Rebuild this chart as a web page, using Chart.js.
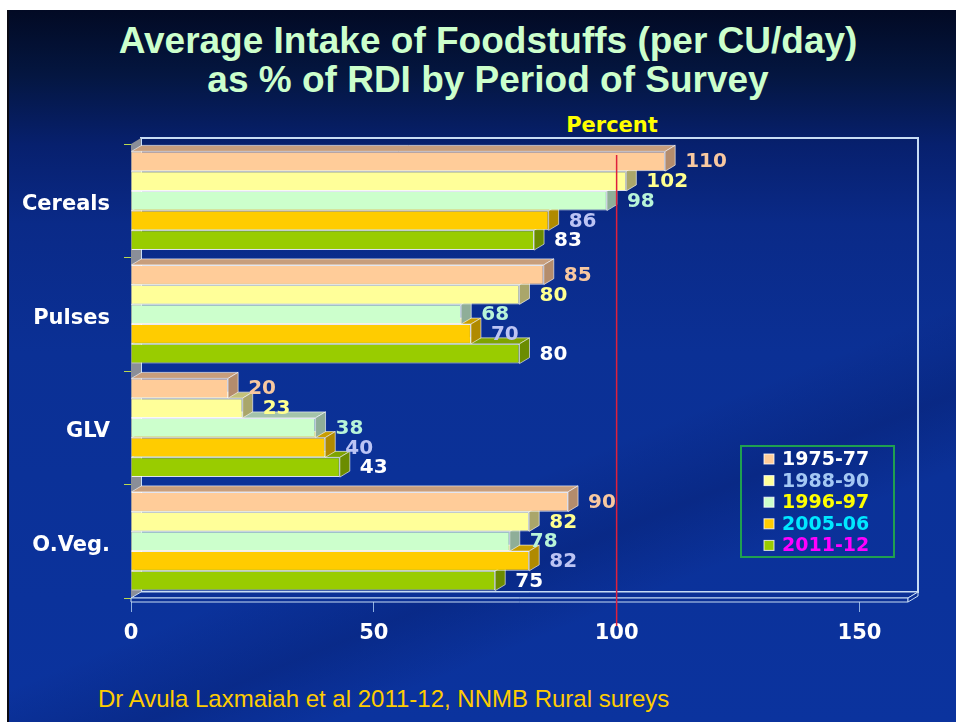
<!DOCTYPE html>
<html>
<head>
<meta charset="utf-8">
<title>Average Intake of Foodstuffs</title>
<script src="https://cdn.jsdelivr.net/npm/chart.js@4.4.1/dist/chart.umd.min.js"></script>
<style>
    html, body { margin: 0; padding: 0; background: #fff; overflow: hidden; }
    body { width: 956px; height: 722px; position: relative; }
    #slide {
        position: absolute; left: 7px; top: 10px; width: 947px; height: 712px;
        border-left: 2px solid #0a0a14;
        background:
            linear-gradient(158deg, rgba(0,0,0,0) 62%, rgba(0,12,70,0.22) 70%, rgba(0,0,0,0) 77%),
            linear-gradient(180deg, #020a24 0%, #041640 9%, #07206e 19%, #0a2a88 30%, #0b3095 48%, #0b339e 100%);
    }
    #title {
        position: absolute; left: 20px; top: 21px; width: 936px;
        text-align: center; color: #ccffcc;
        font: bold 37px "Liberation Sans", Arial, sans-serif; line-height: 39px;
    }
    #unit {
        position: absolute; left: 562px; top: 113px; width: 100px; text-align: center;
        color: #ffff00; font: bold 21px "DejaVu Sans", Verdana, sans-serif; line-height: 25px;
    }
    #source {
        position: absolute; left: 98px; top: 686px;
        color: #ffcc00; font: 24px "Liberation Sans", Arial, sans-serif; line-height: 26px;
    }
    #wrap { position: absolute; left: 0; top: 0; width: 956px; height: 722px; }
</style>
</head>
<body>
<div id="slide"></div>
<div id="title">Average Intake of Foodstuffs (per CU/day)<br>as % of RDI by Period of Survey</div>
<div id="unit">Percent</div>
<div id="source">Dr Avula Laxmaiah et al 2011-12, NNMB Rural sureys</div>
<div id="wrap"><canvas id="intakeChart"></canvas></div>

<script>
// Survey data (% of RDI)
const categories = ['Cereals', 'Pulses', 'GLV', 'O.Veg.'];
const periods = ['1975-77', '1988-90', '1996-97', '2005-06', '2011-12'];
const intake1975 = [110, 85, 20, 90];
const intake1988 = [102, 80, 23, 82];
const intake1996 = [98, 68, 38, 78];
const intake2005 = [86, 70, 40, 82];
const intake2011 = [83, 80, 43, 75];
const xTicks = [0, 50, 100, 150];
const rdiLevel = 100;

// Colours per period
const barColors   = ['#ffcc99', '#ffff99', '#ccffcc', '#ffcc00', '#99cc00'];
const sideColors  = ['#b48c6c', '#aaa66a', '#8fae98', '#b08a00', '#6b8c00'];
const topColors   = ['#c89e7c', '#c4c27a', '#a4c4aa', '#c89e00', '#7fa300'];
const valueColors = ['#f8c8a0', '#ffff90', '#b8f4d8', '#bcc4f4', '#ffffff'];
const legendColors = ['#ffffff', '#a4c8f4', '#ffff00', '#00e8ff', '#ff00ff'];

const FONT = "'DejaVu Sans', Verdana, sans-serif";
const DX = 10, DY = 6; // depth of the 3D effect

function poly(ctx, pts, fill, stroke) {
    ctx.beginPath();
    ctx.moveTo(pts[0][0], pts[0][1]);
    for (let k = 1; k < pts.length; k++) ctx.lineTo(pts[k][0], pts[k][1]);
    ctx.closePath();
    if (fill) { ctx.fillStyle = fill; ctx.fill(); }
    if (stroke) { ctx.strokeStyle = stroke; ctx.stroke(); }
}

// Back wall, left wall and floor slab behind the bars
const box3d = {
    id: 'box3d',
    beforeDatasetsDraw(chart) {
        const { ctx, chartArea: a } = chart;
        ctx.save();
        ctx.lineWidth = 2;
        ctx.strokeStyle = '#c8dcf4';
        ctx.strokeRect(a.left + DX, a.top - DY, a.width, a.height);
        ctx.lineWidth = 1;
        poly(ctx, [[a.left, a.top], [a.left + DX, a.top - DY], [a.left + DX, a.bottom - DY], [a.left, a.bottom]], '#8a8e98', null);
        poly(ctx, [[a.left, a.bottom], [a.left + DX, a.bottom - DY], [a.right + DX, a.bottom - DY], [a.right, a.bottom]], '#0b3096', '#c8dcf4');
        poly(ctx, [[a.left, a.bottom], [a.right, a.bottom], [a.right, a.bottom + 4], [a.left, a.bottom + 4]], '#0b3096', '#c8dcf4');
        poly(ctx, [[a.right, a.bottom], [a.right + DX, a.bottom - DY], [a.right + DX, a.bottom - DY + 4], [a.right, a.bottom + 4]], '#0b3096', '#c8dcf4');
        ctx.restore();
    },
    // side and top faces of each bar, drawn right after its dataset
    afterDatasetDraw(chart, args) {
        const i = args.index;
        const { ctx } = chart;
        ctx.save();
        ctx.lineWidth = 1;
        args.meta.data.forEach(bar => {
            const { x, y, base, height } = bar.getProps(['x', 'y', 'base', 'height'], true);
            const x0 = Math.min(x, base), x1 = Math.max(x, base);
            const yt = y - height / 2, yb = y + height / 2;
            poly(ctx, [[x0, yt], [x0 + DX, yt - DY], [x1 + DX, yt - DY], [x1, yt]], topColors[i], 'rgba(255,255,255,0.6)');
            poly(ctx, [[x1, yt], [x1 + DX, yt - DY], [x1 + DX, yb - DY], [x1, yb]], sideColors[i], 'rgba(255,255,255,0.6)');
        });
        ctx.restore();
    },
    afterDatasetsDraw(chart) {
        const { ctx, chartArea: a } = chart;
        const xs = chart.scales.x;
        ctx.save();
        // 100% RDI reference line
        const rx = xs.getPixelForValue(rdiLevel);
        ctx.strokeStyle = '#e0203c';
        ctx.lineWidth = 1.5;
        ctx.beginPath();
        ctx.moveTo(rx, a.top + 11);
        ctx.lineTo(rx, a.bottom + 28);
        ctx.stroke();

        // value labels
        ctx.font = 'bold 20px ' + FONT;
        ctx.textBaseline = 'middle';
        ctx.textAlign = 'left';
        chart.data.datasets.forEach((ds, i) => {
            chart.getDatasetMeta(i).data.forEach((bar, j) => {
                const { x, y, base } = bar.getProps(['x', 'y', 'base'], true);
                ctx.fillStyle = valueColors[i];
                ctx.fillText(ds.data[j], Math.max(x, base) + DX + 10, y + 1);
            });
        });
        ctx.restore();
    },
    // legend box inside the plot
    afterDraw(chart) {
        const { ctx, chartArea: a } = chart;
        const bx = a.right - 167, by = a.bottom - 152, bw = 153, bh = 111;
        ctx.save();
        ctx.strokeStyle = '#1fa050';
        ctx.lineWidth = 2;
        ctx.strokeRect(bx, by, bw, bh);
        ctx.font = 'bold 19px ' + FONT;
        ctx.textBaseline = 'middle';
        ctx.lineWidth = 1;
        chart.data.datasets.forEach((ds, i) => {
            const ry = by + 13 + i * 21.6;
            ctx.fillStyle = barColors[i];
            ctx.fillRect(bx + 23, ry - 5, 10, 10);
            ctx.strokeStyle = 'rgba(255,255,255,0.8)';
            ctx.strokeRect(bx + 23, ry - 5, 10, 10);
            ctx.fillStyle = legendColors[i];
            ctx.fillText(ds.label, bx + 41, ry + 1);
        });
        ctx.restore();
    }
};

const seriesValues = [intake1975, intake1988, intake1996, intake2005, intake2011];

const datasets = periods.map((p, i) => ({
    label: p,
    data: seriesValues[i],
    backgroundColor: barColors[i],
    borderColor: 'rgba(255,255,255,0.85)',
    borderWidth: 1,
    borderSkipped: 'start',
    categoryPercentage: 0.87,
    barPercentage: 1.0
}));

Chart.defaults.font.family = FONT;

new Chart(document.getElementById('intakeChart').getContext('2d'), {
    type: 'bar',
    data: { labels: categories, datasets: datasets },
    options: {
        indexAxis: 'y',
        responsive: true,
        maintainAspectRatio: false,
        animation: false,
        layout: { padding: { left: 0, top: 144, right: 48, bottom: 74 } },
        plugins: {
            legend: { display: false },
            title: { display: false },
            tooltip: { enabled: false }
        },
        scales: {
            x: {
                type: 'linear',
                min: 0,
                max: 160,
                afterBuildTicks: s => { s.ticks = xTicks.map(v => ({ value: v })); },
                afterFit: s => { s.height = 50; },
                grid: { drawOnChartArea: false, color: '#8fb0e0', tickLength: 14 },
                border: { display: false },
                ticks: { color: '#ffffff', padding: 9, font: { size: 21, weight: 'bold' } }
            },
            y: {
                afterFit: s => { s.width = 131; },
                grid: { drawOnChartArea: false, color: '#b8d850', tickLength: 7 },
                border: { color: '#c8d4e8' },
                ticks: { color: '#ffffff', padding: 14, labelOffset: 4, font: { size: 21, weight: 'bold' } }
            }
        }
    },
    plugins: [box3d]
});
</script>
</body>
</html>
